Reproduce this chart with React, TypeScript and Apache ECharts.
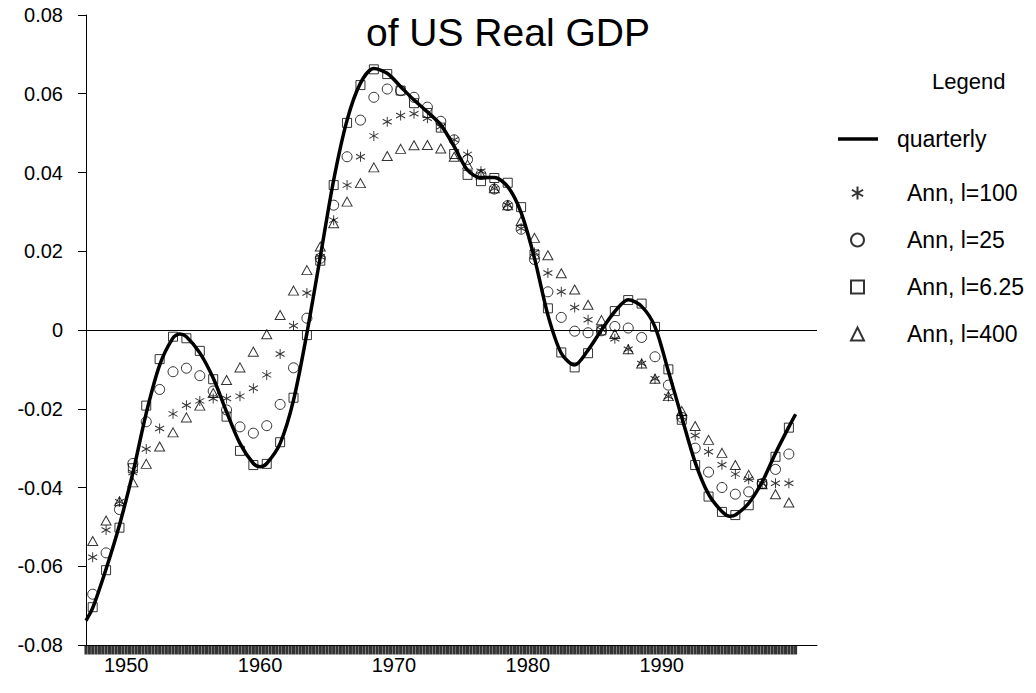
import { useEffect, useRef } from "react";
import * as echarts from "echarts";

const FONT = "'Liberation Sans', Arial, Helvetica, sans-serif";

const TITLE = "of US Real GDP";
const LEGEND_TITLE = "Legend";
const NAME_Q = "quarterly";
const NAME_100 = "Ann, l=100";
const NAME_25 = "Ann, l=25";
const NAME_625 = "Ann, l=6.25";
const NAME_400 = "Ann, l=400";

const FIRST_YEAR = 1947;
const RUG_START = 1947.0;
const RUG_END = 2000.0;
const X_LABELS = [1950, 1960, 1970, 1980, 1990];
const Y_MIN = -0.08;
const Y_MAX = 0.08;
const Y_STEP = 0.02;

// quarterly cyclical component (smooth curve), time and value
const quarterlyT = [
  1947.0, 1947.5, 1948.5, 1949.5, 1950.5, 1951.5, 1952.5, 1953.5, 1954.0, 1954.5,
  1955.5, 1956.5, 1957.5, 1958.5, 1959.5, 1960.0, 1960.5, 1961.5, 1962.5, 1963.5,
  1964.5, 1965.5, 1966.5, 1967.5, 1968.5, 1969.5, 1970.5, 1971.5, 1972.5, 1973.5,
  1974.5, 1975.5, 1976.5, 1977.5, 1978.5, 1979.5, 1980.5, 1981.5, 1982.5, 1983.5,
  1984.5, 1985.5, 1986.5, 1987.5, 1988.5, 1989.5, 1990.5, 1991.5, 1992.5, 1993.5,
  1994.5, 1995.1, 1995.5, 1996.5, 1997.5, 1998.5, 1999.5, 2000.0,
];
const quarterlyV = [
  -0.0738, -0.0706, -0.0607, -0.0495, -0.0363, -0.0211, -0.0089, -0.0020, -0.0010, -0.0017,
  -0.0058, -0.0122, -0.0208, -0.0288, -0.0339, -0.0347, -0.0339, -0.0288, -0.0178, -0.0008,
  0.0186, 0.0381, 0.0533, 0.0627, 0.0664, 0.0652, 0.0618, 0.0584, 0.0554, 0.0521,
  0.0466, 0.0406, 0.0387, 0.0387, 0.0364, 0.0298, 0.0182, 0.0038, -0.0059, -0.0089,
  -0.0051, 0.0000, 0.0047, 0.0077, 0.0060, 0.0008, -0.0105, -0.0222, -0.0336, -0.0417,
  -0.0461, -0.0473, -0.0470, -0.0440, -0.0386, -0.0313, -0.0246, -0.0214,
];

// annual values, 1947..1999
const annL100 = [
  -0.0577, -0.0508, -0.0436, -0.0362, -0.0302, -0.0250, -0.0213, -0.0191, -0.0180, -0.0174,
  -0.0174, -0.0168, -0.0148, -0.0114, -0.0061, 0.0011, 0.0094, 0.0186, 0.0279, 0.0368,
  0.0440, 0.0493, 0.0529, 0.0545, 0.0549, 0.0538, 0.0516, 0.0483, 0.0446, 0.0403,
  0.0359, 0.0317, 0.0258, 0.0197, 0.0145, 0.0097, 0.0057, 0.0026, 0.0001, -0.0022,
  -0.0049, -0.0085, -0.0124, -0.0169, -0.0221, -0.0268, -0.0309, -0.0342, -0.0366, -0.0379,
  -0.0390, -0.0389, -0.0389,
];
const annL25 = [
  -0.0671, -0.0566, -0.0456, -0.0339, -0.0233, -0.0151, -0.0106, -0.0097, -0.0116, -0.0155,
  -0.0203, -0.0246, -0.0262, -0.0243, -0.0189, -0.0096, 0.0030, 0.0182, 0.0317, 0.0440,
  0.0533, 0.0591, 0.0612, 0.0608, 0.0591, 0.0566, 0.0530, 0.0483, 0.0433, 0.0395,
  0.0358, 0.0316, 0.0256, 0.0179, 0.0097, 0.0032, -0.0003, -0.0007, -0.0002, 0.0009,
  0.0005, -0.0019, -0.0068, -0.0140, -0.0222, -0.0300, -0.0361, -0.0400, -0.0417, -0.0411,
  -0.0390, -0.0354, -0.0315,
];
const annL625 = [
  -0.0704, -0.0610, -0.0502, -0.0351, -0.0192, -0.0074, -0.0017, -0.0021, -0.0053, -0.0125,
  -0.0220, -0.0307, -0.0343, -0.0340, -0.0285, -0.0172, -0.0013, 0.0176, 0.0368, 0.0526,
  0.0622, 0.0662, 0.0650, 0.0608, 0.0576, 0.0551, 0.0514, 0.0447, 0.0394, 0.0378,
  0.0386, 0.0374, 0.0312, 0.0192, 0.0055, -0.0057, -0.0095, -0.0059, -0.0001, 0.0048,
  0.0076, 0.0067, 0.0008, -0.0100, -0.0228, -0.0343, -0.0423, -0.0462, -0.0470, -0.0445,
  -0.0391, -0.0322, -0.0248,
];
const annL400 = [
  -0.0536, -0.0484, -0.0435, -0.0387, -0.0340, -0.0296, -0.0260, -0.0222, -0.0192, -0.0160,
  -0.0127, -0.0095, -0.0055, -0.0011, 0.0038, 0.0100, 0.0152, 0.0212, 0.0271, 0.0326,
  0.0373, 0.0413, 0.0442, 0.0460, 0.0469, 0.0470, 0.0461, 0.0440, 0.0420, 0.0395,
  0.0360, 0.0317, 0.0277, 0.0234, 0.0190, 0.0144, 0.0103, 0.0064, 0.0025, -0.0010,
  -0.0049, -0.0085, -0.0124, -0.0168, -0.0206, -0.0244, -0.0279, -0.0312, -0.0343, -0.0368,
  -0.0392, -0.0417, -0.0438,
];

const STAR = "path://M5,0L5,10M0.67,2.5L9.33,7.5M0.67,7.5L9.33,2.5";

const annual = (vals: number[]) => vals.map((v, i) => [FIRST_YEAR + i + 0.5, v]);

const rugDates: number[] = [];
for (let t = RUG_START; t <= RUG_END + 1e-9; t += 0.25) rugDates.push(t);

const hollow = {
  color: "rgba(0,0,0,0)",
  borderColor: "#000",
  borderWidth: 1,
};

export default function App() {
  const ref = useRef<HTMLDivElement>(null);
  useEffect(() => {
    document.body.style.margin = "0";
    if (!ref.current) return;
    const chart = echarts.init(ref.current, undefined, { renderer: "svg" });
    const axisLine = { color: "#000", width: 1 };
    const legendText = { fontSize: 23, color: "#000", fontFamily: FONT };
    const option: any = {
      animation: false,
      backgroundColor: "#fff",
      textStyle: { fontFamily: FONT, color: "#000" },
      title: [
        {
          text: TITLE,
          left: 366,
          top: 13,
          padding: 0,
          textStyle: { fontSize: 39, fontWeight: "normal", color: "#000", fontFamily: FONT },
        },
        {
          text: LEGEND_TITLE,
          left: 932,
          top: 70,
          padding: 0,
          textStyle: { fontSize: 22, fontWeight: "normal", color: "#000", fontFamily: FONT },
        },
      ],
      legend: [
        {
          data: [{ name: NAME_Q, icon: "rect" }],
          orient: "vertical",
          left: 838,
          top: 127.5,
          padding: 0,
          itemWidth: 40,
          itemHeight: 3.5,
          selectedMode: false,
          textStyle: { ...legendText, padding: [0, 0, 0, 14] },
        },
        {
          data: [NAME_100, NAME_25, NAME_625, NAME_400],
          orient: "vertical",
          left: 850,
          top: 181.5,
          padding: 0,
          itemWidth: 13,
          itemHeight: 13,
          itemGap: 24,
          selectedMode: false,
          textStyle: { ...legendText, padding: [0, 0, 0, 38] },
        },
      ],
      grid: { left: 86, top: 15, width: 731, height: 630, containLabel: false, outerBoundsMode: "none" },
      xAxis: {
        type: "value",
        min: 1947,
        max: 2001.6,
        axisLine: { show: true, onZero: false, lineStyle: axisLine },
        axisTick: { show: false },
        splitLine: { show: false },
        axisLabel: {
          customValues: X_LABELS,
          fontSize: 20,
          margin: 10,
          color: "#000",
          fontFamily: FONT,
          formatter: (v: number) => String(Math.round(v)),
        },
      },
      yAxis: {
        type: "value",
        min: Y_MIN,
        max: Y_MAX,
        interval: Y_STEP,
        axisLine: { show: true, onZero: false, lineStyle: axisLine },
        axisTick: { show: true, inside: false, length: 8, lineStyle: axisLine },
        splitLine: { show: false },
        axisLabel: {
          fontSize: 20,
          margin: 23,
          color: "#000",
          fontFamily: FONT,
          formatter: (v: number) => (Math.abs(v) < 1e-9 ? "0" : v.toFixed(2)),
        },
      },
      series: [
        {
          type: "scatter",
          name: "rug",
          data: rugDates.map((t) => [t, Y_MIN]),
          symbol: "rect",
          symbolSize: [3.1, 9],
          symbolOffset: [0, 5],
          itemStyle: { color: "#000" },
          clip: false,
          silent: true,
          z: 1,
        },
        {
          type: "line",
          name: NAME_Q,
          data: quarterlyT.map((t, i) => [t, quarterlyV[i]]),
          smooth: 0.3,
          symbol: "none",
          lineStyle: { color: "#000", width: 3.5 },
          itemStyle: { color: "#000" },
          z: 3,
          markLine: {
            silent: true,
            symbol: "none",
            label: { show: false },
            lineStyle: { color: "#000", width: 1, type: "solid" },
            data: [{ yAxis: 0 }],
          },
        },
        {
          type: "scatter",
          name: NAME_100,
          data: annual(annL100),
          symbol: STAR,
          symbolSize: [9, 10],
          itemStyle: hollow,
          z: 4,
        },
        {
          type: "scatter",
          name: NAME_25,
          data: annual(annL25),
          symbol: "circle",
          symbolSize: 10,
          itemStyle: hollow,
          z: 4,
        },
        {
          type: "scatter",
          name: NAME_625,
          data: annual(annL625),
          symbol: "rect",
          symbolSize: 9,
          itemStyle: hollow,
          z: 4,
        },
        {
          type: "scatter",
          name: NAME_400,
          data: annual(annL400),
          symbol: "triangle",
          symbolSize: [10, 9],
          itemStyle: hollow,
          z: 4,
        },
      ],
    };
    chart.setOption(option);
    return () => chart.dispose();
  }, []);
  return <div ref={ref} style={{ width: 1036, height: 693 }} />;
}
